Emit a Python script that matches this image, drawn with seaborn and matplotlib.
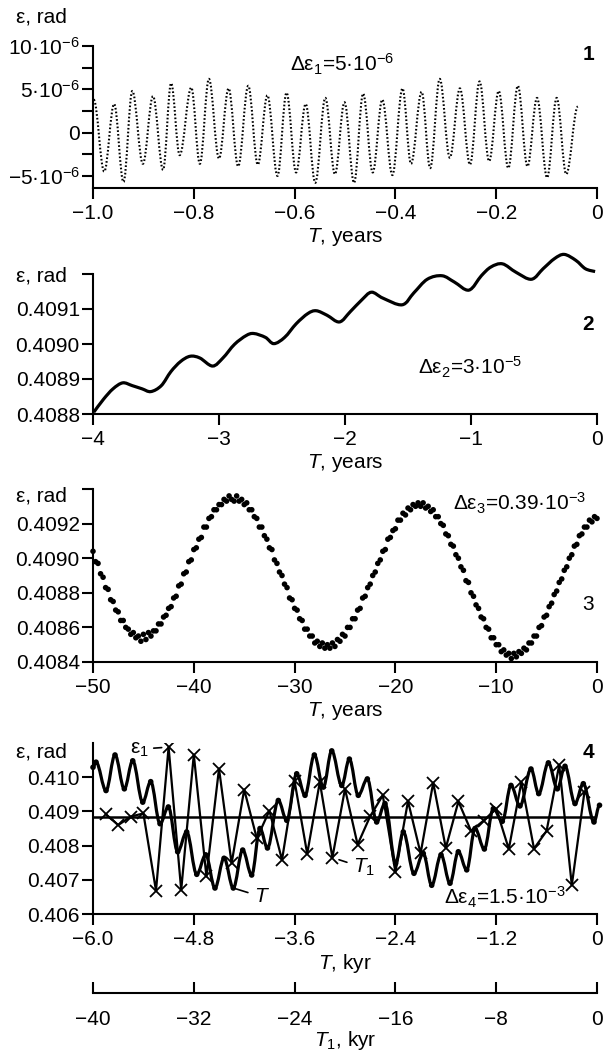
import numpy as np
import pandas as pd
import matplotlib
matplotlib.use("Agg")
import matplotlib.pyplot as plt
import seaborn as sns
from matplotlib.path import Path
from matplotlib.patches import PathPatch
from matplotlib.ticker import FixedLocator, FixedFormatter

# ---------------- data ----------------
# Panel 1: extrema of the short-period oscillation, T in years, eps in 1e-6 rad
p1_t = [-0.9985, -0.9778, -0.958, -0.9395, -0.922, -0.901, -0.881, -0.861, -0.845, -0.828,
        -0.805, -0.788, -0.770, -0.750, -0.731, -0.712, -0.692, -0.673, -0.654, -0.634,
        -0.616, -0.597, -0.578, -0.559, -0.539, -0.520, -0.501, -0.482, -0.464, -0.445,
        -0.426, -0.406, -0.386, -0.369, -0.348, -0.331, -0.312, -0.292, -0.272, -0.252,
        -0.233, -0.214, -0.195, -0.176, -0.157, -0.138, -0.119, -0.099, -0.080, -0.061,
        -0.038]
p1_eps_micro = [3.8, -4.5, 3.3, -5.7, 4.8, -3.6, 4.2, -4.3, 5.7, -2.6,
                5.2, -3.6, 6.2, -3.0, 5.1, -3.9, 5.4, -3.7, 4.3, -5.0,
                4.6, -4.6, 3.3, -5.8, 4.0, -4.8, 3.5, -5.8, 4.5, -4.6,
                3.8, -4.9, 5.1, -3.6, 4.7, -4.1, 6.2, -2.9, 5.1, -3.7,
                5.9, -3.3, 4.8, -4.1, 5.4, -3.9, 4.0, -5.2, 4.0, -4.8,
                3.0]

# Panel 2: T in years, eps in rad
p2_t = [-3.994, -3.917, -3.841, -3.764, -3.688, -3.611, -3.541, -3.458, -3.382, -3.305,
        -3.229, -3.152, -3.051, -2.969, -2.877, -2.785, -2.724, -2.632, -2.565, -2.479,
        -2.387, -2.295, -2.228, -2.142, -2.044, -1.959, -1.867, -1.790, -1.699, -1.546,
        -1.454, -1.347, -1.230, -1.132, -1.016, -0.918, -0.842, -0.750, -0.643, -0.520,
        -0.428, -0.337, -0.260, -0.168, -0.092, -0.015]
p2_eps = [0.408805, 0.408842, 0.408872, 0.408889, 0.408881, 0.408872, 0.408864, 0.408881, 0.408921, 0.408950,
          0.408965, 0.408960, 0.408937, 0.408960, 0.408999, 0.409024, 0.409030, 0.409019, 0.409001, 0.409019,
          0.409058, 0.409087, 0.409095, 0.409082, 0.409063, 0.409092, 0.409126, 0.409148, 0.409131, 0.409112,
          0.409146, 0.409185, 0.409195, 0.409177, 0.409154, 0.409195, 0.409220, 0.409229, 0.409205, 0.409185,
          0.409215, 0.409244, 0.409256, 0.409239, 0.409215, 0.409207]

# Panel 3: samples every 0.25 yr from -50 to 0; eps = 0.4088 + offset*1e-5
p3_t_start, p3_t_step = -50.0, 0.25
p3_offset_1e5 = [24, 18, 17, 11, 9, 3, 2, -4, -5, -10, -11, -16, -16, -20, -21, -24, -23, -26, -25, -28,
                 -24, -27, -23, -25, -22, -22, -18, -18, -14, -13, -9, -8, -3, -2, 4, 5, 11, 12, 18, 19,
                 25, 26, 31, 32, 38, 38, 43, 44, 48, 48, 51, 51, 54, 53, 56, 54,
                 53, 56, 53, 54, 51, 52, 48, 48, 44, 43, 38, 38, 33, 31, 26, 25, 19, 17, 12, 10,
                 5, 3, -3, -4, -9, -10, -15, -16, -21, -21, -25, -25, -29, -28, -31, -29, -32,
                 -30, -32, -29, -31, -27, -28, -24, -25, -20, -20, -15, -15, -10, -9, -3, -2, 3, 5, 10, 12,
                 17, 19, 24, 25, 31, 32, 36, 37, 42, 42, 46, 45, 49, 48, 51, 50, 52,
                 50, 52, 49, 50, 47, 48, 44, 44, 40, 39, 34, 33, 28, 27, 22, 20, 15, 13, 7, 6,
                 0, -2, -7, -9, -14, -15, -20, -21, -26, -26, -30, -30, -34, -33, -36, -35, -38,
                 -35, -37, -34, -35, -32, -33, -29, -29, -25, -25, -20, -19, -14, -13, -8, -6, -1, 1, 6, 8,
                 13, 15, 20, 22, 27, 28, 33, 34, 38, 38, 42, 41, 44, 43]

# Panel 4: eps curve extrema, T in kyr
p4_t = [-6.0, -5.964, -5.845, -5.738, -5.627, -5.527, -5.408, -5.313, -5.202, -5.103,
        -4.992, -4.885, -4.765, -4.658, -4.548, -4.440, -4.330, -4.218, -4.111, -4.012,
        -3.923, -3.794, -3.694, -3.575, -3.476, -3.365, -3.258, -3.158, -3.039, -2.948,
        -2.842, -2.734, -2.623, -2.524, -2.397, -2.306, -2.179, -2.068, -1.968, -1.857,
        -1.750, -1.651, -1.551, -1.452, -1.341, -1.234, -1.127, -1.024, -0.917, -0.786,
        -0.694, -0.579, -0.472, -0.381, -0.262, -0.163, -0.036, 0.03]
p4_eps = [0.41029, 0.41044, 0.40961, 0.41065, 0.40966, 0.41048, 0.40927, 0.40987, 0.40864, 0.40913,
          0.40782, 0.40840, 0.40716, 0.40773, 0.40676, 0.40763, 0.40676, 0.40787, 0.40714, 0.40850,
          0.40793, 0.40932, 0.40874, 0.41010, 0.40947, 0.41065, 0.40971, 0.41077, 0.40976, 0.41053,
          0.40947, 0.40995, 0.40869, 0.40923, 0.40748, 0.40840, 0.40719, 0.40777, 0.40684, 0.40773,
          0.40690, 0.40782, 0.40729, 0.40850, 0.40790, 0.40908, 0.40871, 0.40976, 0.40916, 0.41024,
          0.40952, 0.41042, 0.40966, 0.41032, 0.40923, 0.40981, 0.40869, 0.40918]
# Panel 4: eps1 sampled every 1 kyr of T1
p4_t1 = [-39, -38, -37, -36, -35, -34, -33, -32, -31, -30, -29, -28, -27, -26, -25, -24, -23, -22, -21, -20,
         -19, -18, -17, -16, -15, -14, -13, -12, -11, -10, -9, -8, -7, -6, -5, -4, -3, -2, -1]
p4_eps1 = [0.40892, 0.40860, 0.40885, 0.40894, 0.40668, 0.41088, 0.40670, 0.41066, 0.40710, 0.41025,
           0.40748, 0.40964, 0.40821, 0.40902, 0.40758, 0.40988, 0.40776, 0.40986, 0.40765, 0.40966,
           0.40803, 0.40886, 0.40947, 0.40722, 0.40930, 0.40777, 0.40984, 0.40793, 0.40929, 0.40843,
           0.40873, 0.40908, 0.40790, 0.40986, 0.40791, 0.40843, 0.41036, 0.40684, 0.40956]
p4_mean = 0.40885

# tick labels
x1_ticks = [-1.0, -0.8, -0.6, -0.4, -0.2, 0.0]
x1_labels = ["\u22121.0", "\u22120.8", "\u22120.6", "\u22120.4", "\u22120.2", "0"]
y1_ticks = [-5e-6, 0.0, 5e-6, 10e-6]
y1_labels = ["\u22125\u00b710$^{-6}$", "0", "5\u00b710$^{-6}$", "10\u00b710$^{-6}$"]
y1_minor = [-2.5e-6, 2.5e-6, 7.5e-6]
x2_ticks = [-4, -3, -2, -1, 0]
x2_labels = ["\u22124", "\u22123", "\u22122", "\u22121", "0"]
y2_ticks = [0.4088, 0.4089, 0.4090, 0.4091, 0.4092]
y2_labels = ["0.4088", "0.4089", "0.4090", "0.4091", ""]
x3_ticks = [-50, -40, -30, -20, -10, 0]
x3_labels = ["\u221250", "\u221240", "\u221230", "\u221220", "\u221210", "0"]
y3_ticks = [0.4084, 0.4086, 0.4088, 0.4090, 0.4092, 0.4094]
y3_labels = ["0.4084", "0.4086", "0.4088", "0.4090", "0.4092", ""]
x4_ticks = [-6.0, -4.8, -3.6, -2.4, -1.2, 0.0]
x4_labels = ["\u22126.0", "\u22124.8", "\u22123.6", "\u22122.4", "\u22121.2", "0"]
y4_ticks = [0.406, 0.407, 0.408, 0.409, 0.410]
y4_labels = ["0.406", "0.407", "0.408", "0.409", "0.410"]
x5_ticks = [-40, -32, -24, -16, -8, 0]
x5_labels = ["\u221240", "\u221232", "\u221224", "\u221216", "\u22128", "0"]

# ---------------- style ----------------
sns.set_theme(style="ticks")
plt.rcParams.update({
    "font.family": ["Liberation Sans", "DejaVu Sans"],
    "font.size": 15,
    "mathtext.fontset": "custom",
    "mathtext.rm": "Liberation Sans",
    "mathtext.it": "Liberation Sans:italic",
    "mathtext.bf": "Liberation Sans:bold",
    "mathtext.default": "regular",
    "axes.linewidth": 1.5,
    "axes.edgecolor": "black",
    "axes.labelcolor": "black",
    "text.color": "black",
    "xtick.color": "black",
    "ytick.color": "black",
    "xtick.labelsize": 15,
    "ytick.labelsize": 15,
    "axes.labelsize": 15,
    "xtick.major.size": 8,
    "ytick.major.size": 8,
    "ytick.minor.size": 8,
    "xtick.major.width": 1.5,
    "ytick.major.width": 1.5,
    "ytick.minor.width": 1.5,
    "xtick.major.pad": 3.5,
    "ytick.major.pad": 1.5,
    "axes.labelpad": 2.5,
})

W, H = 603, 1055
fig = plt.figure(figsize=(W / 100, H / 100), dpi=100)
XL, XR = 93, 597


def add_ax(top, bottom):
    return fig.add_axes([XL / W, 1 - bottom / H, (XR - XL) / W, (bottom - top) / H])


def extrema_path(x, y):
    """Smooth curve through successive extrema (horizontal tangents)."""
    verts = [(x[0], y[0])]
    codes = [Path.MOVETO]
    k = 0.364
    for i in range(len(x) - 1):
        dx = x[i + 1] - x[i]
        verts += [(x[i] + k * dx, y[i]), (x[i + 1] - k * dx, y[i + 1]), (x[i + 1], y[i + 1])]
        codes += [Path.CURVE4] * 3
    return Path(verts, codes)


def spline_path(x, y):
    """Catmull-Rom curve through the read points."""
    pts = np.column_stack([x, y])
    n = len(pts)
    verts = [tuple(pts[0])]
    codes = [Path.MOVETO]
    for i in range(n - 1):
        p0 = pts[i - 1] if i > 0 else pts[i]
        p1, p2 = pts[i], pts[i + 1]
        p3 = pts[i + 2] if i + 2 < n else pts[i + 1]
        c1 = p1 + (p2 - p0) / 6.0
        c2 = p2 - (p3 - p1) / 6.0
        verts += [tuple(c1), tuple(c2), tuple(p2)]
        codes += [Path.CURVE4] * 3
    return Path(verts, codes)


def style_ax(ax, xt, xl, yt, yl, xlim, ylim, xlabel):
    ax.set_xlim(*xlim)
    ax.set_ylim(*ylim)
    ax.xaxis.set_major_locator(FixedLocator(xt))
    ax.xaxis.set_major_formatter(FixedFormatter(xl))
    ax.yaxis.set_major_locator(FixedLocator(yt))
    ax.yaxis.set_major_formatter(FixedFormatter(yl))
    ax.set_xlabel(xlabel)
    ax.set_ylabel("")
    ax.tick_params(direction="out")
    for s in ("top", "right"):
        ax.spines[s].set_visible(False)
    ax.set_facecolor("white")


def ftext(x, y, s, **kw):
    fig.text(x / W, 1 - y / H, s, **kw)


# ---------------- panel 1 ----------------
ax1 = add_ax(46, 188)
p1_eps = np.array(p1_eps_micro) * 1e-6
ax1.add_patch(PathPatch(extrema_path(np.array(p1_t), p1_eps), fill=False, ec="black",
                        lw=1.5, ls=(0, (0.8, 1.0))))
style_ax(ax1, x1_ticks, x1_labels, y1_ticks, y1_labels, (-1.0, 0.0), (-6.4e-6, 10e-6),
         r"$\mathit{T}$, years")
ax1.yaxis.set_minor_locator(FixedLocator(y1_minor))
ax1.tick_params(axis="y", which="minor", direction="out", length=8, width=1.5)

# ---------------- panel 2 ----------------
ax2 = add_ax(274, 414)
df2 = pd.DataFrame({"T": p2_t, "eps": p2_eps})
sns.lineplot(data=df2, x="T", y="eps", ax=ax2, color="black", lw=0, clip_on=False)
ax2.add_patch(PathPatch(spline_path(df2["T"].to_numpy(), df2["eps"].to_numpy()), fill=False,
                        ec="black", lw=2.3, clip_on=False))
style_ax(ax2, x2_ticks, x2_labels, y2_ticks, y2_labels, (-4, 0), (0.4088, 0.4092),
         r"$\mathit{T}$, years")

# ---------------- panel 3 ----------------
ax3 = add_ax(489, 662)
p3_t = p3_t_start + p3_t_step * np.arange(len(p3_offset_1e5))
p3_eps = 0.4088 + np.array(p3_offset_1e5) * 1e-5
df3 = pd.DataFrame({"T": p3_t, "eps": p3_eps})
sns.scatterplot(data=df3, x="T", y="eps", ax=ax3, color="black", s=16, linewidth=0,
                edgecolor="none", clip_on=False)
style_ax(ax3, x3_ticks, x3_labels, y3_ticks, y3_labels, (-50, 0), (0.4084, 0.4094),
         r"$\mathit{T}$, years")

# ---------------- panel 4 ----------------
ax4 = add_ax(743, 914)
ax4.add_patch(PathPatch(extrema_path(np.array(p4_t), np.array(p4_eps)), fill=False,
                        ec="black", lw=2.3, clip_on=False))
df4 = pd.DataFrame({"T": p4_t, "eps": p4_eps})
sns.scatterplot(data=df4, x="T", y="eps", ax=ax4, color="black", s=16, linewidth=0,
                edgecolor="none", clip_on=False)
ax4.axhline(p4_mean, color="black", lw=1.8)
style_ax(ax4, x4_ticks, x4_labels, y4_ticks, y4_labels, (-6.0, 0.0), (0.406, 0.411),
         r"$\mathit{T}$, kyr")

ax4t = ax4.twiny()
ax4t.set_xlim(-40, 0)
ax4t.set_ylim(0.406, 0.411)
df4b = pd.DataFrame({"T1": p4_t1, "eps1": p4_eps1})
sns.lineplot(data=df4b, x="T1", y="eps1", ax=ax4t, color="black", lw=1.6, marker="x",
             markersize=8, markeredgewidth=1.3, markeredgecolor="black")
ax4t.set_axis_off()

i_e1 = p4_t1.index(-34)
ax4t.annotate("\u03b5$_1$", xy=(p4_t1[i_e1], p4_eps1[i_e1]), xytext=(-36.3, 0.41082),
              ha="center", va="center", fontsize=15,
              arrowprops=dict(arrowstyle="-", lw=1.2, color="black", shrinkA=1, shrinkB=5))
i_t1 = p4_t1.index(-21)
ax4t.annotate(r"$\mathit{T}_1$", xy=(p4_t1[i_t1], p4_eps1[i_t1]), xytext=(-18.5, 0.40735),
              ha="center", va="center", fontsize=15,
              arrowprops=dict(arrowstyle="-", lw=1.2, color="black", shrinkA=2, shrinkB=5))
i_T = p4_t.index(-4.330)
ax4.annotate(r"$\mathit{T}$", xy=(p4_t[i_T], p4_eps[i_T]), xytext=(-3.99, 0.4065),
             ha="center", va="center", fontsize=15,
             arrowprops=dict(arrowstyle="-", lw=1.2, color="black", shrinkA=2, shrinkB=1))

# ---------------- separate T1 axis ----------------
ax5 = fig.add_axes([XL / W, 1 - 993 / H, (XR - XL) / W, 0.0001])
ax5.set_xlim(-40, 0)
ax5.xaxis.set_major_locator(FixedLocator(x5_ticks))
ax5.xaxis.set_major_formatter(FixedFormatter(x5_labels))
ax5.set_yticks([])
for s in ("left", "top", "right"):
    ax5.spines[s].set_visible(False)
ax5.tick_params(axis="x", direction="in", length=8, pad=12)
ax5.set_xlabel(r"$\mathit{T}_1$, kyr", labelpad=0)
ax5.patch.set_alpha(0)

# ---------------- texts ----------------
for yc in (17, 276, 496, 752):
    ftext(67, yc, "\u03b5, rad", ha="right", va="center", fontsize=15)

ftext(588, 55, "1", ha="center", va="center", fontsize=15, fontweight="bold")
ftext(588, 324, "2", ha="center", va="center", fontsize=15, fontweight="bold")
ftext(588, 605, "3", ha="center", va="center", fontsize=15)
ftext(588, 752, "4", ha="center", va="center", fontsize=15, fontweight="bold")

ftext(342, 64, "\u0394\u03b5$_1$=5\u00b710$^{-6}$", ha="center", va="center", fontsize=15)
ftext(470, 367, "\u0394\u03b5$_2$=3\u00b710$^{-5}$", ha="center", va="center", fontsize=15)
ftext(520, 503, "\u0394\u03b5$_3$=0.39\u00b710$^{-3}$", ha="center", va="center", fontsize=15)
ftext(505, 897, "\u0394\u03b5$_4$=1.5\u00b710$^{-3}$", ha="center", va="center", fontsize=15)

fig.savefig("out.png", dpi=100, facecolor="white")
